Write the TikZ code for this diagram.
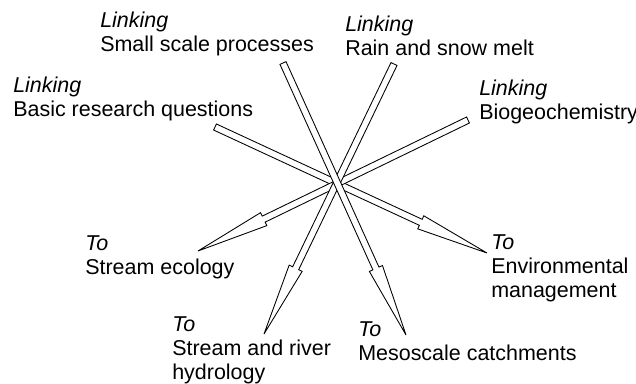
\documentclass[tikz,border=0pt]{standalone}
\usepackage{fontspec}
\setmainfont{Liberation Sans}
\usetikzlibrary{calc}
\def\arwW{2.5pt}
\def\arwH{5.4pt}
\def\arwL{54.75pt}
\tikzset{
  arrowbody/.style={draw=black, fill=white, line width=0.65pt, line join=miter},
  lbl/.style={anchor=north west, inner sep=0pt, align=left, font=\fontsize{16.1}{18}\selectfont}
}
\newcommand\fatarrow[2]{%
  \coordinate (#1-b) at ($(#2)!\arwL!(#1)$);
  \draw[arrowbody] ($(#1)!\arwW!90:(#2)$) -- ($(#1-b)!\arwW!90:(#2)$) -- ($(#1-b)!\arwH!90:(#2)$) -- (#2)
     -- ($(#1-b)!\arwH!-90:(#2)$) -- ($(#1-b)!\arwW!-90:(#2)$) -- ($(#1)!\arwW!-90:(#2)$) -- cycle;}
\begin{document}
\begin{tikzpicture}[x=0.75pt,y=-0.75pt]
\useasboundingbox (0,0) rectangle (636,383);
% labels
\node[lbl] (lSm) at (100,12) {\textit{Linking}\\Small scale processes};
\node[lbl] (lRa) at (345,16) {\textit{Linking}\\Rain and snow melt};
\node[lbl] (lBa) at (13,77) {\textit{Linking}\\Basic research questions};
\node[lbl] (lBi) at (479,80) {\textit{Linking}\\Biogeochemistry};
\node[lbl] (lEc) at (85,235) {\textit{To}\\Stream ecology};
\node[lbl] (lEn) at (491,234) {\textit{To}\\Environmental\\management};
\node[lbl] (lHy) at (172,316) {\textit{To}\\Stream and river\\hydrology};
\node[lbl] (lMe) at (358,321) {\textit{To}\\Mesoscale catchments};
% arrow ends
\coordinate (tSm) at (283,63);
\coordinate (pMe) at (406,335);
\coordinate (tRa) at (394,64);
\coordinate (pHy) at (264,334);
\coordinate (tBa) at (215,127);
\coordinate (pEn) at (487,253);
\coordinate (tBi) at (468,120);
\coordinate (pEc) at (198,251);
% arrows
\fatarrow{tBa}{pEn}
\fatarrow{tBi}{pEc}
\fatarrow{tRa}{pHy}
\fatarrow{tSm}{pMe}
\end{tikzpicture}
\end{document}
